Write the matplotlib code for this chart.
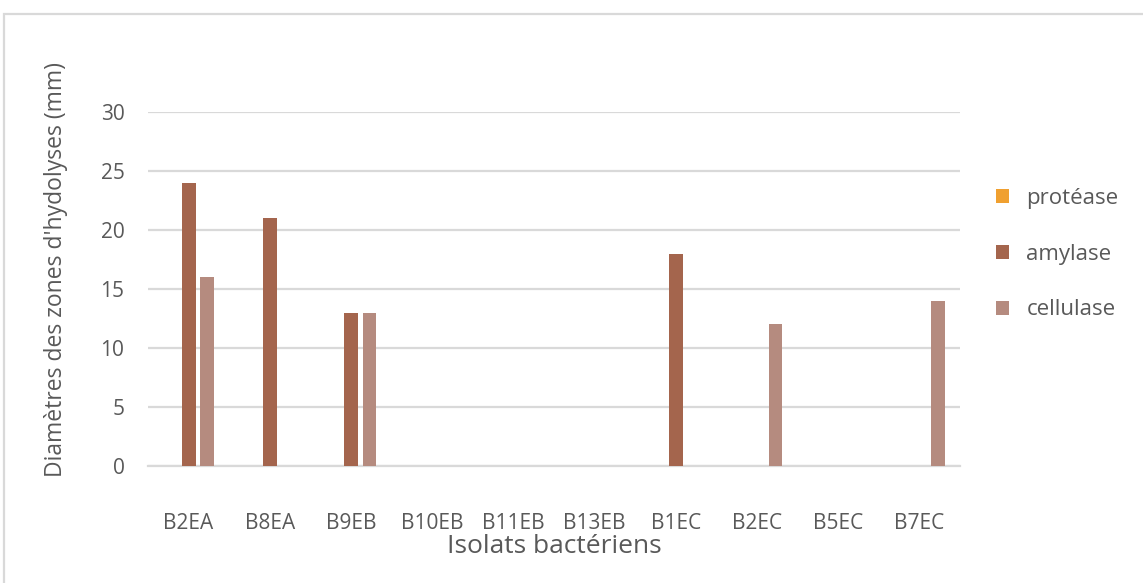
import matplotlib
matplotlib.use("Agg")
import matplotlib.pyplot as plt
from matplotlib.patches import Rectangle
import numpy as np

isolats = ["B2EA", "B8EA", "B9EB", "B10EB", "B11EB", "B13EB", "B1EC", "B2EC", "B5EC", "B7EC"]
protease = [0, 0, 0, 0, 0, 0, 0, 0, 0, 0]
amylase = [24, 21, 13, 0, 0, 0, 18, 0, 0, 0]
cellulase = [16, 0, 13, 0, 0, 0, 0, 12, 0, 14]

plt.rcParams['font.family'] = ['Open Sans', 'DejaVu Sans']
txt = "#595959"
grid_c = "#D9D9D9"

fig = plt.figure(figsize=(11.43, 5.83), dpi=100)
ax = fig.add_axes([148/1143, 117/583, 812/1143, 354/583])

x = np.arange(len(isolats))
w = 0.17
off = 0.228
ax.bar(x - off, protease, w, color="#F0A030", label="protéase", zorder=3)
ax.bar(x, amylase, w, color="#A4654D", label="amylase", zorder=3)
ax.bar(x + off, cellulase, w, color="#B58B7F", label="cellulase", zorder=3)

ax.set_xlim(-0.5, len(isolats) - 0.5)
ax.set_ylim(0, 30)
ax.set_yticks(range(0, 31, 5))
ax.set_xticks(x)
ax.set_xticklabels(isolats)
ax.yaxis.grid(True, color=grid_c, linewidth=1.6, zorder=0)
ax.set_axisbelow(True)
for s in ["top", "right", "left"]:
    ax.spines[s].set_visible(False)
ax.spines["bottom"].set_color(grid_c)
ax.spines["bottom"].set_linewidth(1.6)
ax.tick_params(axis="both", length=0, labelcolor=txt, labelsize=15)
ax.tick_params(axis="x", pad=34)
ax.tick_params(axis="y", pad=17)

ax.set_xlabel("Isolats bactériens", color=txt, fontsize=19, labelpad=0)
ax.set_ylabel("Diamètres des zones d'hydolyses (mm)", color=txt, fontsize=16.5)
ax.yaxis.set_label_coords(-0.0985, 0.554)

leg = ax.legend(loc="upper left", bbox_to_anchor=(1.044, 0.785), frameon=False,
                fontsize=16, handlelength=0.58, handleheight=0.58,
                labelspacing=1.56, handletextpad=0.8,
                borderpad=0, borderaxespad=0)
for t in leg.get_texts():
    t.set_color(txt)

fig.patches.append(Rectangle((4/1143, -0.1), 1.2, (583 - 14)/583 + 0.1,
                             transform=fig.transFigure, fill=False,
                             edgecolor="#D9D9D9", linewidth=1.6))

fig.savefig("out.png", dpi=100)
